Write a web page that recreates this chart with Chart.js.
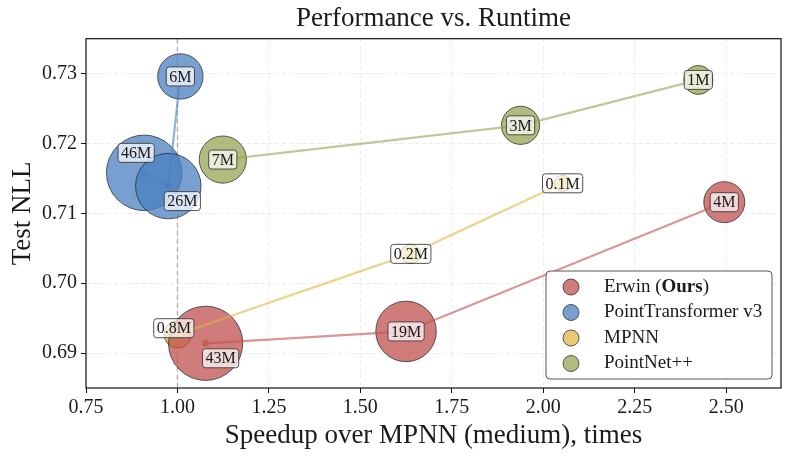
<!DOCTYPE html>
<html>
<head>
<meta charset="utf-8">
<script src="https://cdn.jsdelivr.net/npm/chart.js@4.4.1/dist/chart.umd.min.js"></script>
<style>
  html, body { margin: 0; padding: 0; background: #fff; }
  #wrap { width: 789px; height: 461px; }
</style>
</head>
<body>
<div id="wrap"><canvas id="perfChart" width="789" height="461"></canvas></div>
<script>
// speedup over MPNN (medium), test NLL, parameter count in millions
const erwinSpeedup = [1.077, 1.625, 2.495];
const erwinNLL = [0.6914, 0.6931, 0.7116];
const erwinParams = [43, 19, 4];

const ptv3Speedup = [0.909, 0.975, 1.008];
const ptv3NLL = [0.7158, 0.7139, 0.7296];
const ptv3Params = [46, 26, 6];

const mpnnSpeedup = [1.001, 1.638, 2.053];
const mpnnNLL = [0.6927, 0.7042, 0.7143];
const mpnnParams = [0.8, 0.2, 0.1];

const pointnetSpeedup = [1.124, 1.938, 2.424];
const pointnetNLL = [0.7177, 0.7226, 0.7291];
const pointnetParams = [7, 3, 1];

const xTicks = [0.75, 1.00, 1.25, 1.50, 1.75, 2.00, 2.25, 2.50];
const yTicks = [0.69, 0.70, 0.71, 0.72, 0.73];

const FONT = "'Liberation Serif', 'Times New Roman', serif";

const series = [
  { name: "Erwin (Ours)", x: erwinSpeedup, y: erwinNLL, p: erwinParams, rgb: [192, 80, 79] },
  { name: "PointTransformer v3", x: ptv3Speedup, y: ptv3NLL, p: ptv3Params, rgb: [74, 128, 192] },
  { name: "MPNN", x: mpnnSpeedup, y: mpnnNLL, p: mpnnParams, rgb: [223, 184, 69] },
  { name: "PointNet++", x: pointnetSpeedup, y: pointnetNLL, p: pointnetParams, rgb: [149, 165, 82] },
];

// annotation nudges (pixels) for crowded labels
const labelNudge = { "46M": [-8, -20], "26M": [14, 15], "43M": [15, 15], "0.8M": [-4, -6] };

function rgba(c, a) { return `rgba(${c[0]},${c[1]},${c[2]},${a})`; }
function bubbleRadius(p) { return 14.5 * Math.pow(p, 0.25); } // marker area ~ sqrt(params)

const datasets = [];
series.forEach(s => {
  datasets.push({
    type: "bubble",
    label: s.name,
    data: s.x.map((v, i) => ({ x: v, y: s.y[i], r: bubbleRadius(s.p[i]), tag: s.p[i] + "M" })),
    backgroundColor: rgba(s.rgb, 0.75),
    borderColor: "rgba(40,40,40,0.75)",
    borderWidth: 1,
    hoverRadius: 0,
    order: 1,
  });
});
series.forEach(s => {
  datasets.push({
    type: "line",
    label: s.name + " trend",
    data: s.x.map((v, i) => ({ x: v, y: s.y[i] })),
    borderColor: rgba(s.rgb, 0.6),
    borderWidth: 2.2,
    pointRadius: 3.5,
    pointBorderWidth: 0,
    pointBackgroundColor: rgba(s.rgb, 0.65),
    fill: false,
    order: 0,
  });
});

function roundRect(ctx, x, y, w, h, r) {
  ctx.beginPath();
  ctx.moveTo(x + r, y);
  ctx.lineTo(x + w - r, y);
  ctx.quadraticCurveTo(x + w, y, x + w, y + r);
  ctx.lineTo(x + w, y + h - r);
  ctx.quadraticCurveTo(x + w, y + h, x + w - r, y + h);
  ctx.lineTo(x + r, y + h);
  ctx.quadraticCurveTo(x, y + h, x, y + h - r);
  ctx.lineTo(x, y + r);
  ctx.quadraticCurveTo(x, y, x + r, y);
  ctx.closePath();
}

const decorPlugin = {
  id: "decor",
  beforeDatasetsDraw(chart) {
    // dashed reference line at speedup = 1
    const { ctx, chartArea, scales } = chart;
    const x = scales.x.getPixelForValue(1.0);
    ctx.save();
    ctx.strokeStyle = "rgba(140,140,140,0.7)";
    ctx.lineWidth = 1.2;
    ctx.setLineDash([5, 3]);
    ctx.beginPath();
    ctx.moveTo(x, chartArea.top);
    ctx.lineTo(x, chartArea.bottom);
    ctx.stroke();
    ctx.restore();
  },
  afterDatasetsDraw(chart) {
    // parameter-count boxes
    const { ctx, scales } = chart;
    ctx.save();
    ctx.font = "16px " + FONT;
    ctx.textAlign = "center";
    ctx.textBaseline = "middle";
    chart.data.datasets.forEach(ds => {
      if (ds.type !== "bubble") return;
      ds.data.forEach(pt => {
        const nudge = labelNudge[pt.tag] || [0, 0];
        const cx = scales.x.getPixelForValue(pt.x) + nudge[0];
        const cy = scales.y.getPixelForValue(pt.y) + nudge[1];
        const w = ctx.measureText(pt.tag).width + 6;
        const h = 19;
        roundRect(ctx, cx - w / 2, cy - h / 2, w, h, 3);
        ctx.fillStyle = "rgba(255,255,255,0.72)";
        ctx.fill();
        ctx.strokeStyle = "rgba(60,60,60,0.9)";
        ctx.lineWidth = 1;
        ctx.stroke();
        ctx.fillStyle = "#1a1a1a";
        ctx.fillText(pt.tag, cx, cy + 1);
      });
    });
    ctx.restore();
  },
  afterDraw(chart) {
    const { ctx, chartArea } = chart;
    ctx.save();
    // axes frame
    ctx.strokeStyle = "#111";
    ctx.lineWidth = 1.2;
    ctx.strokeRect(chartArea.left, chartArea.top, chartArea.right - chartArea.left, chartArea.bottom - chartArea.top);

    // legend, lower right
    const bw = 226, bh = 108;
    const bx = chartArea.right - 9 - bw;
    const by = chartArea.bottom - 9 - bh;
    roundRect(ctx, bx, by, bw, bh, 4);
    ctx.fillStyle = "rgba(255,255,255,0.85)";
    ctx.fill();
    ctx.strokeStyle = "rgba(70,70,70,0.9)";
    ctx.lineWidth = 1;
    ctx.stroke();
    ctx.textBaseline = "middle";
    ctx.textAlign = "left";
    series.forEach((s, i) => {
      const ry = by + 16 + i * 25.5;
      ctx.beginPath();
      ctx.arc(bx + 25, ry, 8, 0, 2 * Math.PI);
      ctx.fillStyle = rgba(s.rgb, 0.75);
      ctx.fill();
      ctx.strokeStyle = "rgba(40,40,40,0.75)";
      ctx.stroke();
      ctx.fillStyle = "#1a1a1a";
      let tx = bx + 58;
      if (i === 0) {
        ctx.font = "19px " + FONT;
        ctx.fillText("Erwin (", tx, ry);
        tx += ctx.measureText("Erwin (").width;
        ctx.font = "bold 19px " + FONT;
        ctx.fillText("Ours", tx, ry);
        tx += ctx.measureText("Ours").width;
        ctx.font = "19px " + FONT;
        ctx.fillText(")", tx, ry);
      } else {
        ctx.font = "19px " + FONT;
        ctx.fillText(s.name, tx, ry);
      }
    });
    ctx.restore();
  },
};

const ctx = document.getElementById("perfChart").getContext("2d");
const perfChart = new Chart(ctx, {
  type: "bubble",
  data: { datasets: datasets },
  options: {
    responsive: false,
    animation: false,
    events: [],
    layout: { autoPadding: false, padding: { left: 4, right: 8, top: 0, bottom: 2 } },
    plugins: {
      legend: { display: false },
      tooltip: { enabled: false },
      title: {
        display: true,
        text: "Performance vs. Runtime",
        fullSize: false,
        color: "#1a1a1a",
        font: { family: FONT, size: 27, weight: "normal", lineHeight: 1.1 },
        padding: { top: 4, bottom: 5 },
      },
    },
    scales: {
      x: {
        type: "linear",
        min: 0.75,
        max: 2.65,
        afterBuildTicks: s => { s.ticks = xTicks.map(v => ({ value: v })); },
        afterFit: s => { s.height = 71; },
        ticks: { callback: v => v.toFixed(2), color: "#1a1a1a", font: { family: FONT, size: 20 }, padding: 3, maxRotation: 0 },
        grid: { color: "rgba(0,0,0,0.1)", lineWidth: 0.8, tickLength: 5, tickColor: "#111", tickWidth: 1 },
        border: { display: false, dash: [4, 3] },
        title: {
          display: true,
          text: "Speedup over MPNN (medium), times",
          color: "#1a1a1a",
          font: { family: FONT, size: 27, lineHeight: 1.1 },
          padding: { top: 0, bottom: 8 },
        },
      },
      y: {
        type: "linear",
        min: 0.685,
        max: 0.735,
        afterBuildTicks: s => { s.ticks = yTicks.map(v => ({ value: v })); },
        afterFit: s => { s.width = 82; },
        ticks: { callback: v => v.toFixed(2), color: "#1a1a1a", font: { family: FONT, size: 20 }, padding: 4 },
        grid: { color: "rgba(0,0,0,0.1)", lineWidth: 0.8, tickLength: 5, tickColor: "#111", tickWidth: 1 },
        border: { display: false, dash: [4, 3] },
        title: {
          display: true,
          text: "Test NLL",
          color: "#1a1a1a",
          font: { family: FONT, size: 27, lineHeight: 1.1 },
          padding: { top: 4, bottom: 0 },
        },
      },
    },
  },
  plugins: [decorPlugin],
});
</script>
</body>
</html>
